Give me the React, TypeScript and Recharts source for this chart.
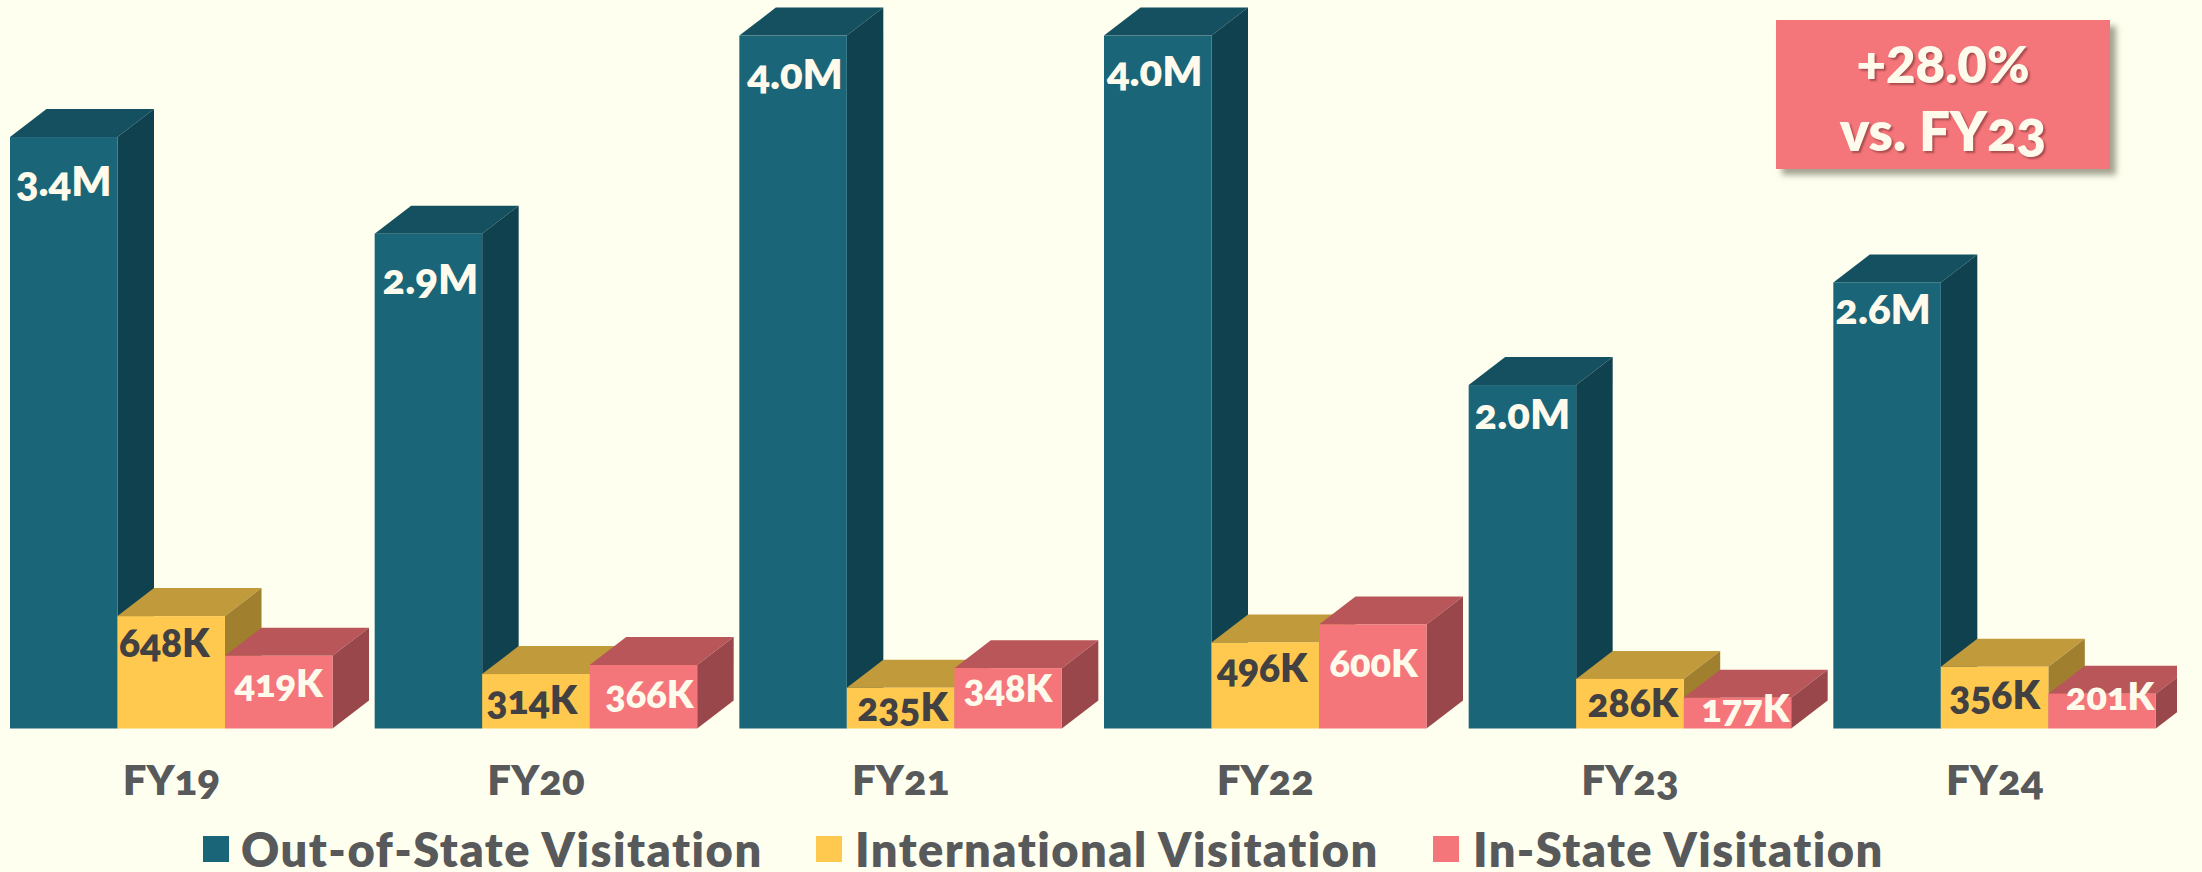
import { Bar, BarChart, LabelList, Legend, XAxis, YAxis } from "recharts";

const fiscalYears = ["FY19", "FY20", "FY21", "FY22", "FY23", "FY24"];
// all values in thousands
const outOfState = [3410, 2853, 3995, 3995, 1980, 2572];
const international = [648, 314, 235, 496, 286, 356];
const inState = [419, 366, 348, 600, 177, 201];

// the labels were placed by hand in the original, so each one has its own nudge:
// y is below the bar's top edge, x is from the bar's middle
const outOfStateLabelY = [43, 44, 37, 34, 28, 26];
const internationalLabelY = [26, 25, 18, 25, 23, 27];
const inStateLabelY = [26, 28, 19, 38, 9, 1];
const outOfStateLabelX = [0, 2, 2, -3, 0, -4];
const internationalLabelX = [-7, -4, 2, -3, 3, 0];
const inStateLabelX = [0, 6, 0, 1, 8, 8];

const rows = fiscalYears.map((year, i) => ({
  year,
  outOfState: outOfState[i],
  international: international[i],
  inState: inState[i],
}));

const FONT = "Lato, 'Open Sans', sans-serif";
const NUMS = { fontFeatureSettings: '"onum"' };
const BACKGROUND = "#FFFFEF";
const TEXT_GREY = "#58595B";
const LIGHT_TEXT = "#FFFBEC";
const DEPTH_X = 36.5;
const DEPTH_Y = 28;

const SERIES = [
  { key: "outOfState", name: "Out-of-State Visitation", face: "#1B6578", top: "#14505F", side: "#10414E" },
  { key: "international", name: "International Visitation", face: "#FFC94F", top: "#C19A3B", side: "#A0802F" },
  { key: "inState", name: "In-State Visitation", face: "#F5767A", top: "#B8565A", side: "#9A474B" },
];

const makeBox = (top: string, side: string) => (props: any) => {
  const { x, y, width, height, fill } = props;
  const right = x + width;
  const bottom = y + height;
  return (
    <g>
      <polygon
        points={`${x},${y} ${x + DEPTH_X},${y - DEPTH_Y} ${right + DEPTH_X},${y - DEPTH_Y} ${right},${y}`}
        fill={top}
      />
      <polygon
        points={`${right},${y} ${right + DEPTH_X},${y - DEPTH_Y} ${right + DEPTH_X},${bottom - DEPTH_Y} ${right},${bottom}`}
        fill={side}
      />
      <rect x={x} y={y} width={width} height={height} fill={fill} />
    </g>
  );
};

const formatValue = (v: number) => (v >= 1000 ? `${(v / 1000).toFixed(1)}M` : `${v}K`);

const makeLabel = (nudgeX: number[], nudgeY: number[], color: string, size: number) => (props: any) => {
  const { x, y, width, value, index } = props;
  return (
    <text
      x={x + width / 2 + nudgeX[index]}
      y={y + nudgeY[index]}
      textAnchor="middle"
      dominantBaseline="central"
      fill={color}
      fontFamily={FONT}
      fontWeight={800}
      fontSize={size}
      style={NUMS}
    >
      {formatValue(value)}
    </text>
  );
};

const YearTick = ({ x, y, payload }: any) => (
  <text x={x} y={y + 58} textAnchor="middle" fill={TEXT_GREY} fontFamily={FONT} fontWeight={800} fontSize={42} style={NUMS}>
    {payload.value}
  </text>
);

const legendX = [213.6, 826.6, 1443.6];
const legendTextGap = [12, 13, 14];
const legendSpacing = [1.5, 1.45, 1.4];

const LegendRow = () => (
  <div style={{ position: "relative", height: 40, lineHeight: "40px", fontFamily: FONT, fontWeight: 800, fontSize: 47, color: TEXT_GREY, whiteSpace: "nowrap" }}>
    {SERIES.map((s, i) => (
      <div key={s.key} style={{ position: "absolute", left: legendX[i], top: 0, height: 40, display: "flex", alignItems: "center", letterSpacing: legendSpacing[i] }}>
        <span style={{ width: 26, height: 26, background: s.face, marginRight: legendTextGap[i] }} />
        {s.name}
      </div>
    ))}
  </div>
);

export default function App() {
  return (
    <div style={{ position: "absolute", left: 0, top: 0, width: 2202, height: 872, overflow: "hidden", background: BACKGROUND }}>
      <div style={{ position: "absolute", left: -10.6, top: 0 }}>
        <BarChart
          width={2188}
          height={872}
          data={rows}
          margin={{ top: 0, right: 0, bottom: 43.5, left: 0 }}
          barGap={0}
          barSize={107.5}
        >
          <XAxis dataKey="year" height={60} axisLine={false} tickLine={false} tick={<YearTick />} interval={0} />
          <YAxis hide domain={[0, 4200]} />
          <Legend content={<LegendRow />} wrapperStyle={{ left: 0, top: 829, bottom: "auto", width: 2188, height: 40 }} />
          <Bar dataKey="outOfState" name={SERIES[0].name} fill={SERIES[0].face} shape={makeBox(SERIES[0].top, SERIES[0].side)} isAnimationActive={false}>
            <LabelList dataKey="outOfState" content={makeLabel(outOfStateLabelX, outOfStateLabelY, LIGHT_TEXT, 42)} />
          </Bar>
          <Bar dataKey="international" name={SERIES[1].name} fill={SERIES[1].face} shape={makeBox(SERIES[1].top, SERIES[1].side)} isAnimationActive={false}>
            <LabelList dataKey="international" content={makeLabel(internationalLabelX, internationalLabelY, "#414042", 39)} />
          </Bar>
          <Bar dataKey="inState" name={SERIES[2].name} fill={SERIES[2].face} shape={makeBox(SERIES[2].top, SERIES[2].side)} isAnimationActive={false}>
            <LabelList dataKey="inState" content={makeLabel(inStateLabelX, inStateLabelY, LIGHT_TEXT, 38)} />
          </Bar>
        </BarChart>
      </div>
      <div
        style={{
          position: "absolute",
          left: 1776,
          top: 20,
          width: 334,
          height: 149,
          background: "#F5767A",
          boxShadow: "6px 6px 6px rgba(90,90,70,0.55)",
          color: LIGHT_TEXT,
          fontFamily: FONT,
          fontWeight: 800,
          fontSize: 55,
          lineHeight: "66px",
          textAlign: "center",
          textShadow: "2px 2px 2px rgba(120,50,50,0.6)",
          paddingTop: 9,
          boxSizing: "border-box",
        }}
      >
        <span style={{ fontSize: 51 }}>+28.0%</span>
        <br />
        <span style={NUMS}>vs. FY23</span>
      </div>
    </div>
  );
}
